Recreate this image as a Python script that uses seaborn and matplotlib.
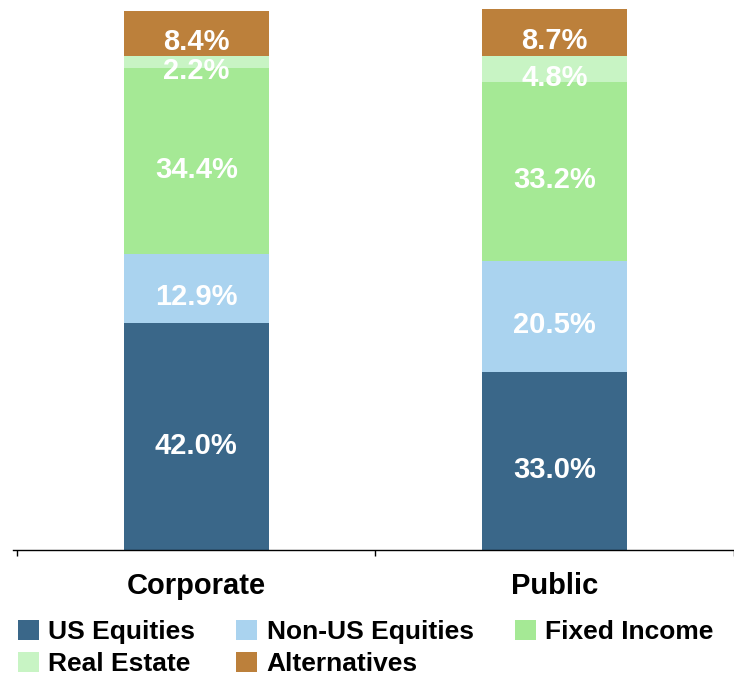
import numpy as np
import pandas as pd
import matplotlib
matplotlib.use("Agg")
import matplotlib.pyplot as plt
import seaborn as sns

# data
plans = ["Corporate", "Public"]
asset_classes = ["US Equities", "Non-US Equities", "Fixed Income", "Real Estate", "Alternatives"]
us_equities = [42.0, 33.0]
non_us_equities = [12.9, 20.5]
fixed_income = [34.4, 33.2]
real_estate = [2.2, 4.8]
alternatives = [8.4, 8.7]
colors = ["#3a6789", "#aad3ef", "#a5e995", "#c8f4c4", "#bc803b"]

sns.set_style("white")
plt.rcParams["font.family"] = ["Liberation Sans", "DejaVu Sans"]

df = pd.DataFrame({
    "plan": plans,
    "US Equities": us_equities,
    "Non-US Equities": non_us_equities,
    "Fixed Income": fixed_income,
    "Real Estate": real_estate,
    "Alternatives": alternatives,
})
cum = df[asset_classes].cumsum(axis=1)
cum["plan"] = df["plan"]

fig = plt.figure(figsize=(7.34, 6.82), dpi=100)
ax = fig.add_axes([13 / 734, 132 / 682, 721 / 734, 550 / 682])

# stacked bars: draw cumulative totals from the top layer down
for name, col in reversed(list(zip(asset_classes, colors))):
    sns.barplot(data=cum, x="plan", y=name, color=col, width=0.405,
                saturation=1, ax=ax, label=name, linewidth=0)

# value labels in the middle of each segment
for i, plan in enumerate(plans):
    bottom = 0
    for name in asset_classes:
        val = df.loc[i, name]
        ax.annotate(f"{val:.1f}%", (i, bottom + val / 2), xytext=(0, -6.5),
                    textcoords="offset points", ha="center", va="center",
                    color="white", fontsize=21, fontweight="bold")
        bottom += val

ax.set_xlim(-0.511, 1.478)
ax.set_ylim(0, 101.85)
ax.set_xlabel("")
ax.set_ylabel("")
ax.set_yticks([])
for s in ["top", "right", "left"]:
    ax.spines[s].set_visible(False)
ax.spines["bottom"].set_color("black")
ax.spines["bottom"].set_linewidth(1)
ax.set_xticks([-0.5, 0.5, 1.5], minor=True)
ax.tick_params(axis="x", which="minor", bottom=True, length=4, width=1,
               color="black", direction="out")
ax.tick_params(axis="x", which="major", length=0, pad=16, labelcolor="black")
for lbl in ax.get_xticklabels():
    lbl.set_fontsize(21)
    lbl.set_fontweight("bold")

if ax.get_legend() is not None:
    ax.get_legend().remove()
handles, labels = ax.get_legend_handles_labels()
lookup = dict(zip(labels, handles))
order = ["US Equities", "Real Estate", "Non-US Equities", "Alternatives", "Fixed Income"]
leg = fig.legend([lookup[n] for n in order], order, loc="upper left",
                 bbox_to_anchor=(18 / 734, 1 - 620 / 682), ncol=3, frameon=False,
                 prop={"size": 19, "weight": "bold"}, handlelength=0.8, handleheight=0.8,
                 handletextpad=0.35, columnspacing=1.55, labelspacing=0.28,
                 borderpad=0, borderaxespad=0)
for t in leg.get_texts():
    t.set_color("black")

fig.savefig("out.png", dpi=100)
